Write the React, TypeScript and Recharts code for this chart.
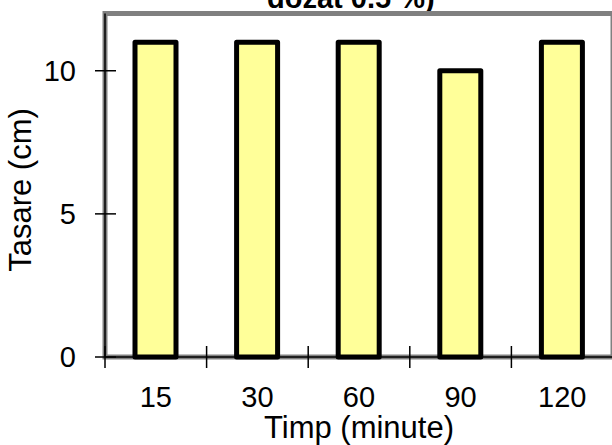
import { BarChart, Bar, XAxis, YAxis, ReferenceArea } from "recharts";

// timp (minute) si tasare (cm)
const timpi = ["15", "30", "60", "90", "120"];
const tasari = [11, 11, 11, 10, 11];
const yTicks = [0, 5, 10];

const data = timpi.map((t, i) => ({ timp: t, tasare: tasari[i] }));

const W = 640;
const H = 445;
const M = { top: 13.5, right: 27, left: 0, bottom: 0 };
const Y_W = 105;
const X_H = 88;
const PLOT_W = W - M.left - M.right - Y_W;
const BAND = PLOT_W / timpi.length;
const FONT = "'Liberation Sans', Arial, sans-serif";

const XTick = ({ x, y, payload }: any) => (
  <g>
    <line x1={x - BAND / 2} x2={x - BAND / 2} y1={y - 11} y2={y + 11} stroke="#000" strokeWidth={1.5} />
    <text x={x} y={y + 50} textAnchor="middle" fontFamily={FONT} fontSize={29} fill="#000">
      {payload.value}
    </text>
  </g>
);

const YTick = ({ x, y, payload }: any) => (
  <g>
    <line x1={x - 10} x2={x + 11} y1={y} y2={y} stroke="#000" strokeWidth={1.5} />
    <text x={x - 29} y={y} dy="0.35em" textAnchor="end" fontFamily={FONT} fontSize={29} fill="#000">
      {payload.value}
    </text>
  </g>
);

export default function App() {
  return (
    <div style={{ position: "absolute", left: 0, top: 0, width: 612, height: 445, overflow: "hidden", background: "#fff" }}>
      <BarChart width={W} height={H} data={data} margin={M}>
        <ReferenceArea y1={0} y2={12} fill="#fff" stroke="#808080" strokeWidth={5} ifOverflow="visible" />
        <XAxis
          dataKey="timp"
          height={X_H}
          axisLine={{ stroke: "#000", strokeWidth: 1.5 }}
          tickLine={false}
          tickSize={0}
          tickMargin={0}
          tick={<XTick />}
          interval={0}
        />
        <YAxis
          width={Y_W}
          domain={[0, 12]}
          ticks={yTicks}
          axisLine={{ stroke: "#000", strokeWidth: 1.5 }}
          tickLine={false}
          tickSize={0}
          tickMargin={0}
          tick={<YTick />}
        />
        <Bar
          dataKey="tasare"
          barSize={41}
          fill="#ffff99"
          stroke="#000"
          strokeWidth={5}
          strokeLinejoin="round"
          isAnimationActive={false}
        />
        <text x={267} y={8} fontFamily={FONT} fontSize={29} fontWeight="bold" fill="#000">
          dozat 0.5 %)
        </text>
        <text x={359} y={437.5} textAnchor="middle" fontFamily={FONT} fontSize={31} fill="#000">
          Timp (minute)
        </text>
        <text
          x={20}
          y={190}
          dy="0.35em"
          textAnchor="middle"
          transform="rotate(-90 20 190)"
          fontFamily={FONT}
          fontSize={31}
          fill="#000"
        >
          Tasare (cm)
        </text>
      </BarChart>
    </div>
  );
}
